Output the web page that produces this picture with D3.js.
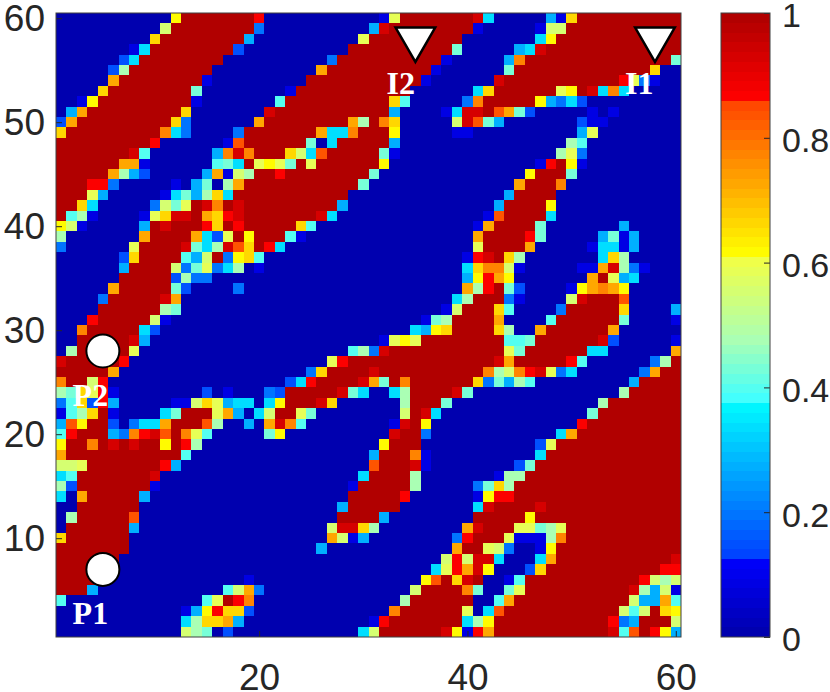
<!DOCTYPE html>
<html>
<head>
<meta charset="utf-8">
<script src="https://cdnjs.cloudflare.com/ajax/libs/d3/7.8.5/d3.min.js"></script>
<style>
  html, body { margin: 0; padding: 0; background: #fff; }
  svg { display: block; }
  .axis text { font-family: "Liberation Sans", sans-serif; font-size: 37px; fill: #262626; }
  .axis.bar text { font-size: 34px; }
  .axis line { stroke: #262626; stroke-width: 1; }
  .axis path { display: none; }
  .site-label { font-family: "Liberation Serif", serif; font-weight: bold; font-size: 32px; fill: #fff; text-anchor: middle; }
</style>
</head>
<body>
<div id="chart"></div>
<script>
// letter code -> value in the colour scale
const levelCodes  = [".", "b", "B", "c", "d", "e", "f", "g", "h", "i", "j", "k", "l", "m", "n", "o", "p", "q", "r", "#"];
const levelValues = [0, 0.09, 0.15, 0.2, 0.27, 0.34, 0.4, 0.43, 0.48, 0.55, 0.59, 0.62, 0.67, 0.72, 0.78, 0.83, 0.86, 0.87, 0.93, 1];

// grid rows, top row (y = 60) first, split in three blocks of 20 columns
const rowsLeft = [
  "...........k#######p", "..........i########c", ".........l########d.", ".......be########B..", "......Be########....",
  ".....Bh########.....", ".....m########b.....", "....l########g......", "..bk#########b......", ".dm#########l.......",
  "Bm#########lc......m", "l#########nec....c##", "#########p......bo##", "#######rf......dnrn#", "######mmb......fge#j",
  "#####mhdB.....dmbih#", "###qpc.....b.dg.hm##", "###jd.....begdhle###", "##le.....cigj#rn#r##", "#fhb....bjlrr#mlqr##",
  "kib.....d#r###ql#q##", "h.......m####meBj#k#", "c......j####rgehrol#", "......Bl####fdi#cklf", "......d####icgjceh.b",
  "......#####Bhcc.....", ".....m#####gB....c..", "....c#####rm........", "....######hg........", "...q#####ib.........",
  "..n#####eB..........", "..#####rd...........", ".h#####j............", "r#####p.............", "#####m..............",
  "n##ip...............", "hgljpb........B.b...", "cflBqd.....bbiljdee.", "bfhl#b....eg###jmd.e", "dok##B.ceem###oh..d.",
  "fq###dcnqro#njf.....", "k##n#r#r##k#qh......", "m###########f.......", "iij#######pd........", "ef#######r..........",
  "hB#######b..........", "e.m#####d...........", "..######............", ".h#####o............", ".######d............",
  "l######.............", "#######.............", "######..............", "######..............", "#####.............b.",
  "###d............fimc", "f.............fj#qn.", "............bdkpllB.", "............ehllmd..", "............ihg.B..."
];
const rowsMiddle = [
  "...........bj#######", "..........dr########", ".........j#########.", "........##########g.", "......c##########b..",
  ".....m##########b...", "....###########b....", "..b###########......", ".f##########lf.....c", "r###########d....ber",
  "########mh#nl.....ir", "#####meen###k.....bb", "####g.e#####d.......", "##lieo#####gb.......", "kjg#j######k........",
  "#q########g.........", "#########g..........", "########............", "#######d............", "#####re.............",
  "###lf...............", "##fb................", "qe..................", "...................b", "...................e",
  "...................d", "...................m", "..................eh", ".................bi#", "...............bgh##",
  "..............edkl##", "...........bjkj#####", "........fhcr########", "......jq############", "....cl####r#########",
  "..Bep####rmg#n######", "cB#####rge..eh####rg", "ek###rl......h###g..", "i##jg........i#re...", "mrnf........br#k....",
  "gk..........r##c....", "...........k###.....", "..........d###nb....", "..........o###rb....", ".........e####h.....",
  "........b#####h.....", "........#####q......", ".......d#####.......", ".......####d........", "......irrlh........m",
  "......mibd........cq", ".....d............m#", ".................iqi", "................ejqm", "...............ko#lr",
  "..............i####n", ".............h######", "............n######j", "..........bp#######e", ".........ei######rkb"
];
const rowsRight = [
  "re.....dbl##########", "b.....bii###########", "......ek############", "....der#############", "...dn##############g",
  "...g#############l..", "..r###########qjcb..", "el######jk#rene.....", "n#####kdceB.........", "r#omgB.....b.b......",
  "ogd.......Bbb.......", "..........dj........", ".........hf.........", "........hjc.........", "......bq#kb.........",
  ".....k###g..........", "....m###n...........", "...d####............", "..d####k............", ".bo####e............",
  "bm####g.......d.....", "m####qg.....dgbd....", "j####m.....beebd....", "qr#lh.......elh.....", "lnnib.....bbmrhcb...",
  "kpmk.......m#jde....", "hq#gB....bkmnmk.....", "###cb....ir###o.....", "##lf....c#####l....d", "##m....f######g....b",
  "##lh..m######m......", "###ffg######rB.....b", "###jg######ee......m", "##rm#####qf......ch#", "#nhinqrjce......cm##",
  "lcgdhf.........d####", "..............h#####", "............h#######", "...........g########", "..........q#########",
  "........em##########", "......Bj############", "......e#############", "....Bg##############", "..bhh###############",
  "cglh################", "bkqp################", "er####r#############", "#####k##############", "r###jjghj###########",
  "###jbbbhn###########", "#jic..bk############", "rre...em###########r", "rk...Bl###########qq", "#..bf###########pihi",
  "g..gj##########rhdib", "..fm###########iddmf", ".eo###########ifi#lk", "hk###########pcd###i", "qm###########rfo#pkd"
];

const xTicks = [20, 40, 60];
const yTicks = [10, 20, 30, 40, 50, 60];
const barTicks = [0, 0.2, 0.4, 0.6, 0.8, 1];

// injection and production sites
const circleNames = ["P1", "P2"];
const circleX = [5, 5];
const circleY = [7, 28];
const triangleNames = ["I1", "I2"];
const triangleX = [58, 35];
const triangleY = [58, 58];
const labelNames = ["P1", "P2", "I1", "I2"];
const labelX = [3.8, 3.8, 56.5, 33.6];
const labelY = [1.75, 22.7, 52.7, 52.7];

const totalWidth = 830, totalHeight = 692;
const margin = {top: 13, left: 56};
const plotWidth = 625, plotHeight = 624;
const barLeft = 721, barWidth = 49;

var svg = d3.select("#chart").append("svg")
    .attr("width", totalWidth)
    .attr("height", totalHeight);

// jet like map with the jumps seen in the colour bar, 64 bands
var jet = d3.scaleLinear()
    .domain([0, 0.127, 0.127, 0.38, 0.38, 0.476, 0.612, 0.612, 0.862, 0.862, 1])
    .range(["#0000aa", "#0000ff", "#0040ff", "#00ffff", "#40ffff", "#aaffb4", "#f5ff40", "#ffff00", "#ff4000", "#ff0000", "#ac0000"])
    .interpolate(d3.interpolateRgb);
var colormap = d3.scaleQuantize()
    .domain([0, 1])
    .range(d3.range(64).map(i => jet((i + 0.5) / 64)));

var levelOf = d3.scaleOrdinal().domain(levelCodes).range(levelValues);

var x = d3.scaleLinear().domain([0.5, 60.5]).range([margin.left, margin.left + plotWidth]);
var y = d3.scaleLinear().domain([0.5, 60.5]).range([margin.top + plotHeight, margin.top]);
var barScale = d3.scaleLinear().domain([0, 1]).range([margin.top + plotHeight, margin.top]);

// flatten the three blocks into cells
var cells = [];
rowsLeft.forEach(function(row, r) {
    var line = row + rowsMiddle[r] + rowsRight[r];
    line.split("").forEach(function(code, c) {
        cells.push({col: c + 1, row: 60 - r, value: levelOf(code)});
    });
});

svg.append("g")
    .attr("shape-rendering", "crispEdges")
    .selectAll("rect")
    .data(cells)
    .enter().append("rect")
    .attr("x", d => x(d.col - 0.5))
    .attr("y", d => y(d.row + 0.5))
    .attr("width", d => x(d.col + 0.5) - x(d.col - 0.5))
    .attr("height", d => y(d.row - 0.5) - y(d.row + 0.5))
    .attr("fill", d => colormap(d.value));

// the sites
svg.append("g").selectAll("circle")
    .data(circleNames)
    .enter().append("circle")
    .attr("cx", (d, i) => x(circleX[i]))
    .attr("cy", (d, i) => y(circleY[i]))
    .attr("r", 16.5)
    .attr("fill", "#fff")
    .attr("stroke", "#000")
    .attr("stroke-width", 2);

svg.append("g").selectAll("path")
    .data(triangleNames)
    .enter().append("path")
    .attr("d", d3.symbol().type(d3.symbolTriangle).size(680))
    .attr("transform", (d, i) => "translate(" + x(triangleX[i]) + "," + y(triangleY[i]) + ") rotate(180)")
    .attr("fill", "#fff")
    .attr("stroke", "#000")
    .attr("stroke-width", 2.5)
    .attr("stroke-linejoin", "miter");

svg.append("g").selectAll("text")
    .data(labelNames)
    .enter().append("text")
    .attr("class", "site-label")
    .attr("x", (d, i) => x(labelX[i]))
    .attr("y", (d, i) => y(labelY[i]))
    .text(d => d);

// Add the axes
svg.append("g")
    .attr("class", "axis")
    .attr("transform", "translate(0," + (margin.top + plotHeight) + ")")
    .call(d3.axisBottom(x).tickValues(xTicks).tickSizeInner(-6).tickSizeOuter(0).tickPadding(27));

svg.append("g")
    .attr("class", "axis")
    .attr("transform", "translate(" + margin.left + ",0)")
    .call(d3.axisLeft(y).tickValues(yTicks).tickSizeInner(-6).tickSizeOuter(0).tickPadding(11));

svg.append("rect")
    .attr("x", margin.left)
    .attr("y", margin.top)
    .attr("width", plotWidth)
    .attr("height", plotHeight)
    .attr("fill", "none")
    .attr("stroke", "#404040")
    .attr("stroke-width", 1);

// colour bar
svg.append("g")
    .attr("shape-rendering", "crispEdges")
    .selectAll("rect")
    .data(d3.range(64))
    .enter().append("rect")
    .attr("x", barLeft)
    .attr("y", i => barScale((i + 1) / 64))
    .attr("width", barWidth)
    .attr("height", i => barScale(i / 64) - barScale((i + 1) / 64))
    .attr("fill", i => colormap((i + 0.5) / 64));

svg.append("g")
    .attr("class", "axis bar")
    .attr("transform", "translate(" + (barLeft + barWidth) + ",0)")
    .call(d3.axisRight(barScale).tickValues(barTicks).tickFormat(d => d).tickSizeInner(-6).tickSizeOuter(0).tickPadding(12))
    .selectAll("text")
    .attr("dy", "0.41em");

svg.append("rect")
    .attr("x", barLeft)
    .attr("y", margin.top)
    .attr("width", barWidth)
    .attr("height", plotHeight)
    .attr("fill", "none")
    .attr("stroke", "#404040")
    .attr("stroke-width", 1);
</script>
</body>
</html>
